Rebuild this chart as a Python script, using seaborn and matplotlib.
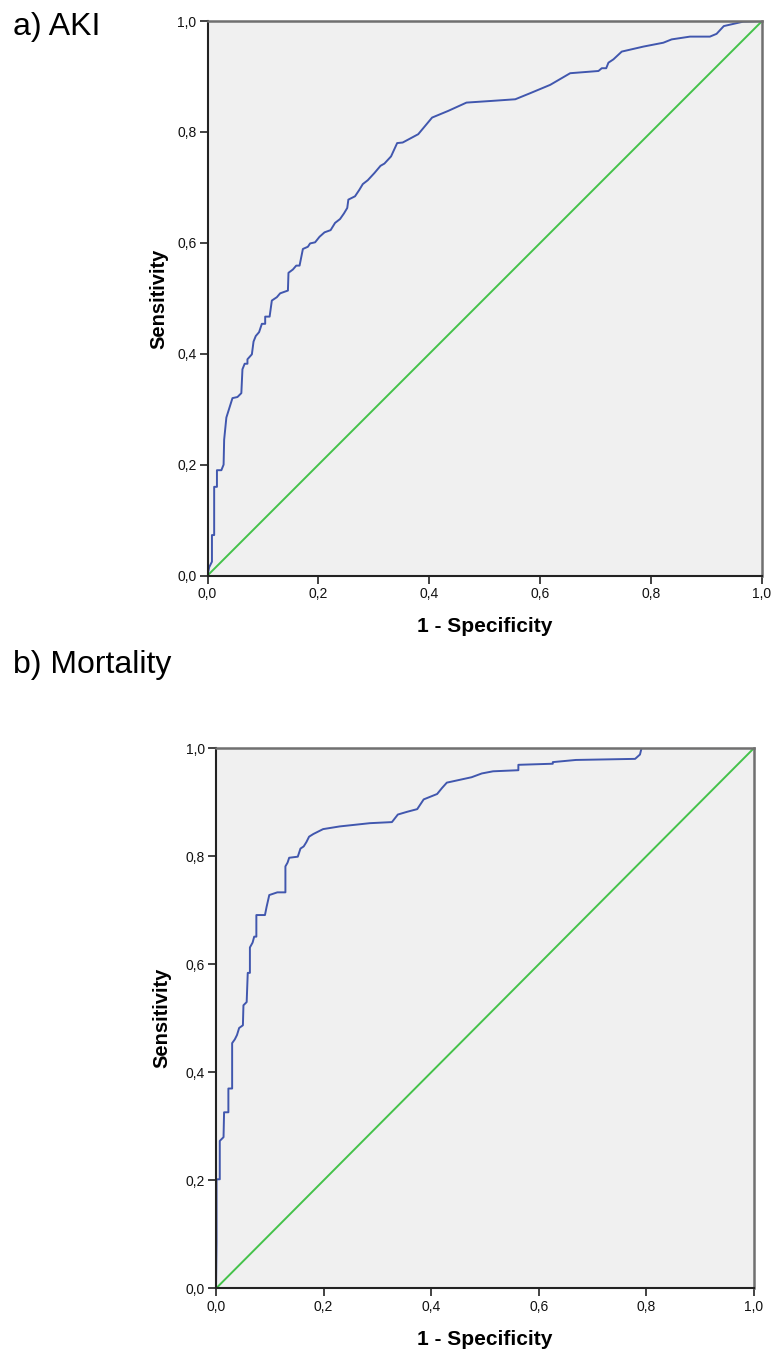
import pandas as pd
import matplotlib.pyplot as plt
import seaborn as sns

# ROC curve points (1 - specificity, sensitivity)
aki_fpr = [0.0, 0.003, 0.008, 0.008, 0.012, 0.012, 0.017, 0.017, 0.025, 0.029, 0.030, 0.034,
           0.045, 0.054, 0.061, 0.063, 0.067, 0.072, 0.072, 0.080, 0.083, 0.087, 0.093, 0.098,
           0.104, 0.104, 0.112, 0.116, 0.125, 0.131, 0.145, 0.146, 0.154, 0.160, 0.166, 0.169,
           0.172, 0.181, 0.185, 0.194, 0.202, 0.211, 0.222, 0.230, 0.239, 0.246, 0.252, 0.254,
           0.266, 0.274, 0.280, 0.289, 0.301, 0.312, 0.319, 0.331, 0.342, 0.352, 0.380, 0.405,
           0.434, 0.467, 0.512, 0.555, 0.582, 0.618, 0.654, 0.705, 0.711, 0.719, 0.723, 0.732,
           0.747, 0.786, 0.822, 0.837, 0.870, 0.906, 0.918, 0.931, 0.966, 1.0]
aki_tpr = [0.0, 0.015, 0.025, 0.073, 0.073, 0.160, 0.160, 0.190, 0.190, 0.200, 0.245, 0.285,
           0.320, 0.322, 0.329, 0.372, 0.382, 0.382, 0.390, 0.399, 0.422, 0.432, 0.439, 0.454,
           0.454, 0.467, 0.467, 0.496, 0.502, 0.509, 0.514, 0.546, 0.552, 0.559, 0.559, 0.574,
           0.589, 0.593, 0.599, 0.601, 0.611, 0.619, 0.623, 0.636, 0.643, 0.653, 0.663, 0.678,
           0.684, 0.696, 0.706, 0.713, 0.726, 0.739, 0.743, 0.756, 0.780, 0.781, 0.796, 0.826,
           0.838, 0.853, 0.856, 0.859, 0.870, 0.885, 0.906, 0.910, 0.915, 0.915, 0.925, 0.931,
           0.945, 0.954, 0.961, 0.967, 0.972, 0.972, 0.977, 0.991, 0.999, 1.0]

mort_fpr = [0.0, 0.001, 0.001, 0.007, 0.007, 0.014, 0.015, 0.023, 0.023, 0.030, 0.030, 0.035,
            0.039, 0.043, 0.050, 0.051, 0.057, 0.059, 0.063, 0.063, 0.068, 0.071, 0.075, 0.075,
            0.091, 0.094, 0.099, 0.114, 0.129, 0.129, 0.133, 0.136, 0.152, 0.157, 0.163, 0.168,
            0.173, 0.181, 0.199, 0.230, 0.286, 0.327, 0.338, 0.355, 0.374, 0.386, 0.411, 0.420,
            0.429, 0.452, 0.475, 0.494, 0.515, 0.562, 0.562, 0.626, 0.626, 0.669, 0.779, 0.788,
            0.791, 1.0]
mort_tpr = [0.0, 0.086, 0.202, 0.202, 0.273, 0.280, 0.326, 0.326, 0.370, 0.370, 0.454, 0.461,
            0.469, 0.482, 0.487, 0.524, 0.530, 0.584, 0.584, 0.631, 0.640, 0.651, 0.651, 0.691,
            0.691, 0.706, 0.728, 0.733, 0.733, 0.781, 0.788, 0.797, 0.799, 0.814, 0.818, 0.826,
            0.836, 0.841, 0.850, 0.855, 0.861, 0.863, 0.877, 0.882, 0.887, 0.905, 0.915, 0.926,
            0.936, 0.941, 0.946, 0.953, 0.957, 0.959, 0.969, 0.971, 0.974, 0.978, 0.980, 0.988,
            1.0, 1.0]

ref_line = [0.0, 1.0]
ticks = [0.0, 0.2, 0.4, 0.6, 0.8, 1.0]
tick_labels = ['0,0', '0,2', '0,4', '0,6', '0,8', '1,0']

panels = [
    ('a) AKI', aki_fpr, aki_tpr),
    ('b) Mortality', mort_fpr, mort_tpr),
]

sns.set_style('white')
plt.rcParams['font.family'] = ['Liberation Sans', 'DejaVu Sans']
plt.rcParams['text.color'] = 'black'
plt.rcParams['axes.labelcolor'] = 'black'

fig = plt.figure(figsize=(7.72, 13.52), dpi=100)
axes_pos = [
    [0.2688, 0.5743, 0.7183, 0.4101],
    [0.2798, 0.0470, 0.6969, 0.3997],
]
title_pos = [(13 / 772, 1 - 35 / 1352), (13 / 772, 1 - 673 / 1352)]
ylabel_pad = [6, 10]

blue = '#4157AE'
green = '#44C24A'

for (title, fpr, tpr), pos, tpos, ypad in zip(panels, axes_pos, title_pos, ylabel_pad):
    ax = fig.add_axes(pos)
    ax.set_facecolor('#F0F0F0')

    curve = pd.DataFrame({'fpr': fpr, 'tpr': tpr})
    diag = pd.DataFrame({'x': ref_line, 'y': ref_line})
    sns.lineplot(data=diag, x='x', y='y', color=green, linewidth=1.4,
                 sort=False, estimator=None, ax=ax)
    sns.lineplot(data=curve, x='fpr', y='tpr', color=blue, linewidth=1.4,
                 sort=False, estimator=None, ax=ax)

    ax.set_xlim(0, 1)
    ax.set_ylim(0, 1)
    ax.set_xticks(ticks)
    ax.set_yticks(ticks)
    ax.set_xticklabels(tick_labels, fontsize=10, color='#111111')
    ax.set_yticklabels(tick_labels, fontsize=10, color='#111111')
    ax.tick_params(axis='both', direction='out', length=6, width=1.2,
                   color='#222222', pad=2, bottom=True, left=True)

    for side in ['left', 'bottom']:
        ax.spines[side].set_color('#222222')
        ax.spines[side].set_linewidth(1.5)
    for side in ['top', 'right']:
        ax.spines[side].set_color('#707070')
        ax.spines[side].set_linewidth(1.8)

    ax.set_xlabel('1 - Specificity', fontsize=15, fontweight='bold', labelpad=12)
    ax.set_ylabel('Sensitivity', fontsize=14.5, fontweight='bold', labelpad=ypad)

    fig.text(tpos[0], tpos[1], title, fontsize=23, ha='left', va='baseline')

plt.savefig('out.png', dpi=100)
